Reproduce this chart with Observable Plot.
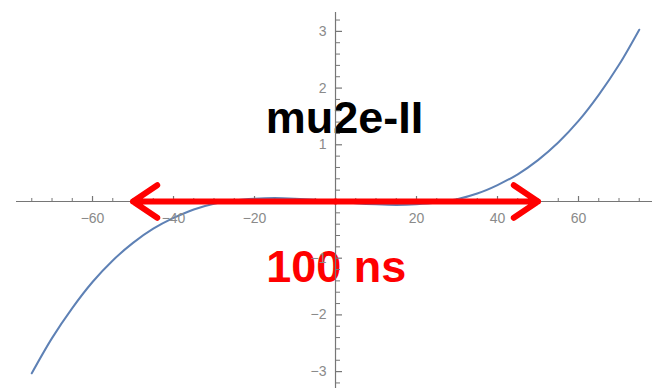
<!DOCTYPE html>
<html>
<head>
<meta charset="utf-8">
<script src="https://cdn.jsdelivr.net/npm/d3@7"></script>
<script src="https://cdn.jsdelivr.net/npm/@observablehq/plot@0.6"></script>
<style>
  html, body { margin: 0; padding: 0; background: #fff; }
  #chart { width: 652px; height: 388px; overflow: hidden; }
</style>
</head>
<body>
<div id="chart"></div>
<script>
// Curve samples
const xs = [-75,-70,-65,-60,-55,-50,-45,-40,-35,-30,-25,-20,-15,-10,-5,0,5,10,15,20,25,30,35,40,45,50,55,60,65,70,75];
const ys = [-3.03,-2.41,-1.88,-1.42,-1.04,-0.73,-0.48,-0.29,-0.14,-0.04,0.02,0.05,0.06,0.05,0.03,0,-0.03,-0.05,-0.06,-0.05,-0.02,0.04,0.14,0.29,0.48,0.73,1.04,1.42,1.88,2.41,3.03];

// Axis ticks
const xMajor = [-60,-40,-20,20,40,60];
const xMinor = [-75,-70,-65,-55,-50,-45,-35,-30,-25,-15,-10,-5,5,10,15,25,30,35,45,50,55,65,70,75];
const yMajor = [-3,-2,-1,1,2,3];
const yMinor = [-3.2,-2.8,-2.6,-2.4,-2.2,-1.8,-1.6,-1.4,-1.2,-0.8,-0.6,-0.4,-0.2,0.2,0.4,0.6,0.8,1.2,1.4,1.6,1.8,2.2,2.4,2.6,2.8,3.2];

// Annotations
const arrowEnds = [-50, 50];
const titleLabel = [{text: "mu2e-II", x: 2.2, y: 1.47}];
const spanLabel = [{text: "100 ns", x: 0.2, y: -1.17}];

const curve = xs.map((x, i) => ({x, y: ys[i]}));
const fmt = d => (d < 0 ? "\u2212" + Math.abs(d) : String(d));
const axisColor = "#767676";
const labelColor = "#8a8a8a";
const font = "'Liberation Sans', Arial, sans-serif";

const chart = Plot.plot({
  width: 652,
  height: 388,
  marginLeft: 16,
  marginRight: 0,
  marginTop: 12,
  marginBottom: 0,
  style: {fontFamily: font, background: "white"},
  x: {domain: [-78.77, 78.27], axis: null},
  y: {domain: [-3.298, 3.333], axis: null},
  marks: [
    Plot.line(curve, {x: "x", y: "y", stroke: "#5E81B5", strokeWidth: 2, curve: "catmull-rom"}),
    Plot.text(titleLabel, {x: "x", y: "y", text: "text", fontSize: 45, fontWeight: "bold", fill: "black", fontFamily: font}),
    Plot.text(spanLabel, {x: "x", y: "y", text: "text", fontSize: 45, fontWeight: "bold", fill: "#ff0000", fontFamily: font}),
    // axes lines
    Plot.ruleY([0], {stroke: axisColor, strokeWidth: 1.2}),
    Plot.ruleX([0], {stroke: axisColor, strokeWidth: 1.2}),
    // x ticks (upward)
    Plot.ruleX(xMajor, {x: d => d, y1: 0, y2: 0, insetTop: -5, stroke: axisColor, strokeWidth: 1.2}),
    Plot.ruleX(xMinor, {x: d => d, y1: 0, y2: 0, insetTop: -3, stroke: axisColor, strokeWidth: 1}),
    // y ticks (rightward)
    Plot.ruleY(yMajor, {y: d => d, x1: 0, x2: 0, insetRight: -7, stroke: axisColor, strokeWidth: 1.2}),
    Plot.ruleY(yMinor, {y: d => d, x1: 0, x2: 0, insetRight: -5, stroke: axisColor, strokeWidth: 1}),
    // tick labels
    Plot.text(xMajor, {x: d => d, y: 0, dy: 17, text: fmt, fill: labelColor, fontSize: 14, fontFamily: font}),
    Plot.text(yMajor, {x: 0, y: d => d, dx: -9, textAnchor: "end", text: fmt, fill: labelColor, fontSize: 14, fontFamily: font}),
    // red double arrow
    Plot.arrow(arrowEnds, {x1: 0, y1: 0, x2: d => d, y2: 0, stroke: "#ff0000", strokeWidth: 6, headAngle: 68, headLength: 7.3, strokeLinecap: "round", strokeLinejoin: "round"})
  ]
});
document.getElementById("chart").appendChild(chart);
</script>
</body>
</html>
